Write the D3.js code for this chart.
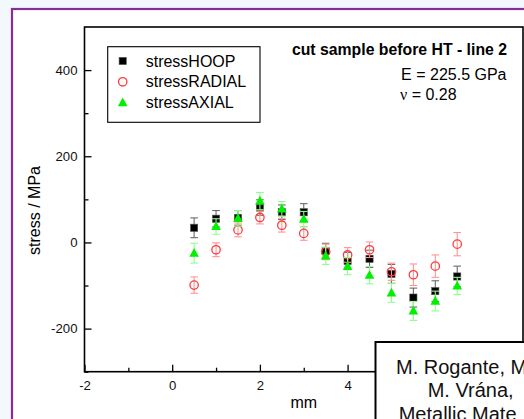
<!DOCTYPE html>
<html>
<head>
<meta charset="utf-8">
<script src="https://cdn.jsdelivr.net/npm/d3@7"></script>
<style>
  html, body { margin: 0; padding: 0; background: #f3f8fc; }
  svg { display: block; font-family: "Liberation Sans", Arial, sans-serif; }
</style>
</head>
<body>
<svg id="chart" width="524" height="419"></svg>
<script>
const positions = [0.5, 1, 1.5, 2, 2.5, 3, 3.5, 4, 4.5, 5, 5.5, 6, 6.5]
const stressHOOP = [34, 55, 57, 81, 70, 70, -20, -43, -38, -73, -128, -113, -79]
const errHOOP = [23, 19, 17, 18, 17, 20, 18, 20, 20, 22, 22, 24, 24]
const stressRADIAL = [-99, -17, 29, 58, 40, 21, -22, -29, -17, -68, -75, -55, -4]
const errRADIAL = [19, 16, 16, 15, 16, 16, 18, 17, 18, 20, 25, 26, 27]
const stressAXIAL = [-25, 37, 56, 96, 78, 54, -31, -55, -76, -117, -159, -136, -101]
const errAXIAL = [23, 18, 18, 20, 17, 18, 20, 20, 20, 22, 22, 23, 20]

const xMajor = [-2, 0, 2, 4, 6, 8]
const xMinor = [-1, 1, 3, 5, 7]
const yMajor = [-200, 0, 200, 400]
const yMinor = [-300, -100, 100, 300]

const series = [
    {name: 'stressHOOP', values: stressHOOP, err: errHOOP, shape: 'square', color: '#000', errColor: '#6a6a6a'},
    {name: 'stressRADIAL', values: stressRADIAL, err: errRADIAL, shape: 'circle', color: '#ff3b3b', errColor: '#ff9494'},
    {name: 'stressAXIAL', values: stressAXIAL, err: errAXIAL, shape: 'triangle', color: '#00f000', errColor: '#8cff8c'},
]

const svg = d3.select('#chart')

// slide frame
svg.append('rect').attr('x', 12).attr('y', 9).attr('width', 530).attr('height', 430)
    .attr('fill', '#fff').attr('stroke', '#8a2c98').attr('stroke-width', 2.2)

const plot = {left: 84.5, right: 523, top: 27, bottom: 371.7}
const xScale = d3.scaleLinear().domain([-2, 8]).range([plot.left, plot.right])
const yScale = d3.scaleLinear().domain([-300, 500]).range([plot.bottom, plot.top])

const plain = d => String(d)   // hyphen minus, like the original
const axisG = svg.append('g')

axisG.append('g')
    .attr('transform', `translate(0,${plot.bottom})`)
    .call(d3.axisBottom(xScale).tickValues(xMajor).tickSizeInner(-7).tickSizeOuter(0).tickPadding(9).tickFormat(plain))
axisG.append('g')
    .attr('transform', `translate(0,${plot.bottom})`)
    .call(d3.axisBottom(xScale).tickValues(xMinor).tickSizeInner(-4).tickSizeOuter(0).tickFormat(''))
axisG.append('g')
    .attr('transform', `translate(${plot.left},0)`)
    .call(d3.axisLeft(yScale).tickValues(yMajor).tickSizeInner(-7).tickSizeOuter(0).tickPadding(7).tickFormat(plain))
axisG.append('g')
    .attr('transform', `translate(${plot.left},0)`)
    .call(d3.axisLeft(yScale).tickValues(yMinor).tickSizeInner(-4).tickSizeOuter(0).tickFormat(''))

axisG.selectAll('.domain').remove()
axisG.selectAll('.tick line').attr('stroke', '#000').attr('stroke-width', 1.3)
axisG.selectAll('.tick text').attr('fill', '#111').attr('font-size', 13.2)
    .attr('font-family', '"Liberation Sans", Arial, sans-serif')

svg.append('rect')
    .attr('x', plot.left).attr('y', plot.top)
    .attr('width', plot.right - plot.left).attr('height', plot.bottom - plot.top)
    .attr('fill', 'none').attr('stroke', '#000').attr('stroke-width', 1.6)

svg.append('text').attr('x', (plot.left + plot.right) / 2).attr('y', 408)
    .attr('text-anchor', 'middle').attr('font-size', 16).text('mm')
svg.append('text').attr('transform', `translate(40,210.5) rotate(-90)`)
    .attr('text-anchor', 'middle').attr('font-size', 16).text('stress / MPa')

const drawMarker = (g, shape, color) => {
    if (shape === 'square') {
        g.append('rect').attr('x', -3.6).attr('y', -3.6).attr('width', 7.2).attr('height', 7.2)
            .attr('fill', color).attr('stroke', '#555').attr('stroke-width', 0.6)
    } else if (shape === 'circle') {
        g.append('circle').attr('r', 4.2).attr('fill', 'none').attr('stroke', color).attr('stroke-width', 1.3)
    } else {
        g.append('path').attr('d', 'M0,-5.2L4.8,3.6L-4.8,3.6Z').attr('fill', color)
    }
}

// error bars + markers, one series after another
series.forEach(s => {
    const g = svg.append('g')
    positions.forEach((p, i) => {
        const cx = xScale(p)
        const lo = yScale(s.values[i] - s.err[i])
        const hi = yScale(s.values[i] + s.err[i])
        const eb = g.append('g').attr('stroke', s.errColor).attr('stroke-width', 1.1)
        eb.append('line').attr('x1', cx).attr('x2', cx).attr('y1', lo).attr('y2', hi)
        eb.append('line').attr('x1', cx - 3.8).attr('x2', cx + 3.8).attr('y1', lo).attr('y2', lo)
        eb.append('line').attr('x1', cx - 3.8).attr('x2', cx + 3.8).attr('y1', hi).attr('y2', hi)
    })
    positions.forEach((p, i) => {
        const m = g.append('g').attr('transform', `translate(${xScale(p)},${yScale(s.values[i])})`)
        drawMarker(m, s.shape, s.color)
    })
})

// legend
const legend = svg.append('g')
legend.append('rect').attr('x', 107.7).attr('y', 46.7).attr('width', 152.3).attr('height', 75.6)
    .attr('fill', '#fff').attr('stroke', '#000').attr('stroke-width', 1.1)
series.forEach((s, i) => {
    const cy = 61 + i * 20.8
    const m = legend.append('g').attr('transform', `translate(122.7,${cy})`)
    drawMarker(m, s.shape, s.color)
    legend.append('text').attr('x', 145.7).attr('y', cy + 5.6).attr('font-size', 16).text(s.name)
})

// annotations
svg.append('text').attr('x', 507).attr('y', 55).attr('text-anchor', 'end')
    .attr('font-size', 15.8).attr('font-weight', 'bold').text('cut sample before HT - line 2')
svg.append('text').attr('x', 506.5).attr('y', 80).attr('text-anchor', 'end')
    .attr('font-size', 16).text('E = 225.5 GPa')
const nu = svg.append('text').attr('x', 400).attr('y', 100).attr('font-size', 16)
nu.append('tspan').attr('font-family', '"Liberation Serif", "DejaVu Serif", serif').text('ν')
nu.append('tspan').text(' = 0.28')

// overlaid caption box
svg.append('rect').attr('x', 375.5).attr('y', 342).attr('width', 200).attr('height', 120)
    .attr('fill', '#fff').attr('stroke', '#000').attr('stroke-width', 2)
const caption = svg.append('g').attr('font-size', 20).attr('fill', '#111')
caption.append('text').attr('x', 396).attr('y', 374.3).text('M. Rogante, M')
caption.append('text').attr('x', 427.7).attr('y', 397.3).text('M. Vrána,')
caption.append('text').attr('x', 398.7).attr('y', 420.5).text('Metallic Mate')
</script>
</body>
</html>
